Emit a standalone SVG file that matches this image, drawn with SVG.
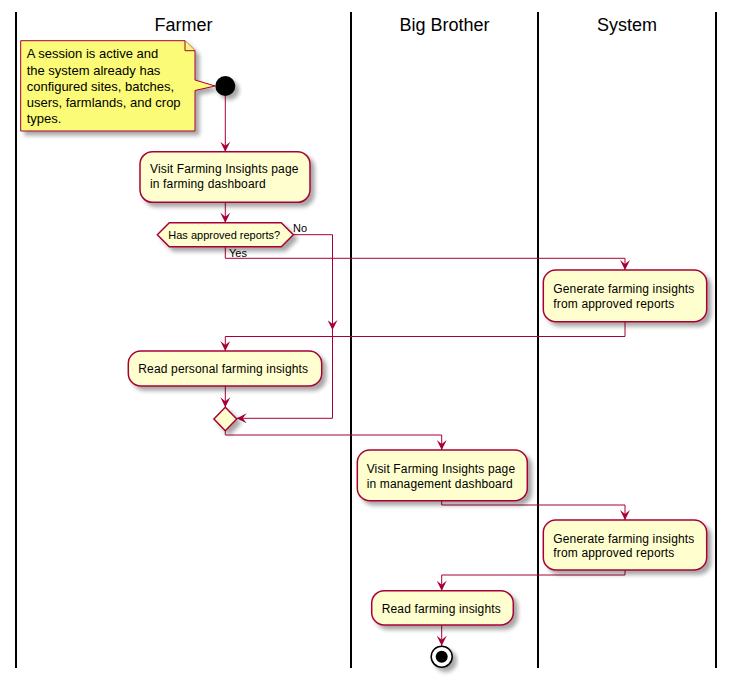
<svg xmlns="http://www.w3.org/2000/svg" width="734" height="683" viewBox="0 0 734 683">
<defs>
<filter id="sh" x="-20%" y="-20%" width="150%" height="160%">
<feGaussianBlur in="SourceAlpha" stdDeviation="2"/>
<feOffset dx="4" dy="4" result="b"/>
<feComponentTransfer><feFuncA type="linear" slope="0.35"/></feComponentTransfer>
<feMerge><feMergeNode/><feMergeNode in="SourceGraphic"/></feMerge>
</filter>
<marker id="ah" viewBox="0 0 10 10" refX="10" refY="5" markerWidth="10" markerHeight="10" markerUnits="userSpaceOnUse" orient="auto">
<path d="M0,0 L10,5 L0,10 L4,5 Z" fill="#A80036"/>
</marker>
</defs>
<style>
text{font-family:"Liberation Sans",Arial,sans-serif;fill:#000}
.lane{stroke:#000;stroke-width:2;fill:none}
.title{font-size:18px;text-anchor:middle}
.act{fill:#FEFECE;stroke:#A80036;stroke-width:1.5}
.atx{font-size:12px;letter-spacing:0.15px}
.note{fill:#FBFB77;stroke:#A80036;stroke-width:1}
.ntx{font-size:13px}
.lbl{font-size:11px}
.con{fill:none;stroke:#A80036;stroke-width:1}
</style>
<rect width="734" height="683" fill="#fff"/>
<g id="lanes">
<line class="lane" x1="16" y1="12" x2="16" y2="668"/>
<line class="lane" x1="351" y1="12" x2="351" y2="668"/>
<line class="lane" x1="538" y1="12" x2="538" y2="668"/>
<line class="lane" x1="716" y1="12" x2="716" y2="668"/>
<text class="title" x="183.5" y="31">Farmer</text>
<text class="title" x="444.5" y="31">Big Brother</text>
<text class="title" x="627" y="31">System</text>
</g>
<g id="connectors">
<path class="con" d="M225.3,96 L225.3,151.7" marker-end="url(#ah)"/>
<path class="con" d="M225.3,202.3 L225.3,222.7" marker-end="url(#ah)"/>
<path class="con" d="M225.3,246.7 L225.3,258.3 L625,258.3 L625,270" marker-end="url(#ah)"/>
<path class="con" d="M625,321.7 L625,336.5 L225.3,336.5 L225.3,351" marker-end="url(#ah)"/>
<path class="con" d="M293.3,234.7 L332.5,234.7 L332.5,330" marker-end="url(#ah)"/>
<path class="con" d="M332.5,330 L332.5,418.3 L236.7,418.3" marker-end="url(#ah)"/>
<path class="con" d="M225.3,386 L225.3,407.3" marker-end="url(#ah)"/>
<path class="con" d="M225.3,430.7 L225.3,435 L441.7,435 L441.7,450" marker-end="url(#ah)"/>
<path class="con" d="M441.7,500.7 L441.7,505 L625,505 L625,520" marker-end="url(#ah)"/>
<path class="con" d="M625,570 L625,575 L441.7,575 L441.7,590.7" marker-end="url(#ah)"/>
<path class="con" d="M441.7,625 L441.7,645.7" marker-end="url(#ah)"/>
<text class="lbl" x="293" y="231.5">No</text>
<text class="lbl" x="229" y="256.5">Yes</text>
</g>
<g id="note">
<path class="note" filter="url(#sh)" d="M20.7,40.7 L185,40.7 L195,50.7 L195,80 L215,86 L195,90.5 L195,131 L20.7,131 Z"/>
<path class="note" d="M185,40.7 L185,50.7 L195,50.7"/>
<text class="ntx" x="26.7" y="58.3">A session is active and</text>
<text class="ntx" x="26.7" y="74.7">the system already has</text>
<text class="ntx" x="26.7" y="90.7">configured sites, batches,</text>
<text class="ntx" x="26.7" y="107.3">users, farmlands, and crop</text>
<text class="ntx" x="26.7" y="123.3">types.</text>
</g>
<g id="start">
<circle cx="225.3" cy="86" r="10" fill="#000" filter="url(#sh)"/>
</g>
<g id="visitFarming">
<rect class="act" filter="url(#sh)" x="140" y="151.7" width="170" height="50.6" rx="12.5"/>
<text class="atx" x="150" y="173.3">Visit Farming Insights page</text>
<text class="atx" x="150" y="188.3">in farming dashboard</text>
</g>
<g id="decision">
<polygon class="act" filter="url(#sh)" points="157.3,234.7 169.3,222.7 281.3,222.7 293.3,234.7 281.3,246.7 169.3,246.7"/>
<text class="lbl" x="168.3" y="238.5">Has approved reports?</text>
</g>
<g id="generate1">
<rect class="act" filter="url(#sh)" x="543.3" y="270" width="163.4" height="51.7" rx="12.5"/>
<text class="atx" x="553.3" y="293.3">Generate farming insights</text>
<text class="atx" x="553.3" y="308.3">from approved reports</text>
</g>
<g id="readPersonal">
<rect class="act" filter="url(#sh)" x="128.3" y="351" width="193.4" height="35" rx="12.5"/>
<text class="atx" x="138.3" y="373.3">Read personal farming insights</text>
</g>
<g id="merge">
<polygon class="act" filter="url(#sh)" points="225.3,407.3 236.7,419 225.3,430.7 213.9,419"/>
</g>
<g id="visitManagement">
<rect class="act" filter="url(#sh)" x="357.3" y="450" width="170" height="50.7" rx="12.5"/>
<text class="atx" x="366.7" y="472.7">Visit Farming Insights page</text>
<text class="atx" x="366.7" y="487.7">in management dashboard</text>
</g>
<g id="generate2">
<rect class="act" filter="url(#sh)" x="543.3" y="520" width="163.4" height="50" rx="12.5"/>
<text class="atx" x="553.3" y="542.7">Generate farming insights</text>
<text class="atx" x="553.3" y="557.3">from approved reports</text>
</g>
<g id="readInsights">
<rect class="act" filter="url(#sh)" x="371.7" y="590.7" width="141.6" height="34.3" rx="12.5"/>
<text class="atx" x="381.7" y="612.7">Read farming insights</text>
</g>
<g id="end">
<circle cx="441.7" cy="656.7" r="10.5" fill="#fff" stroke="#000" stroke-width="1.5" filter="url(#sh)"/>
<circle cx="441.7" cy="656.7" r="6" fill="#000"/>
</g>
</svg>
